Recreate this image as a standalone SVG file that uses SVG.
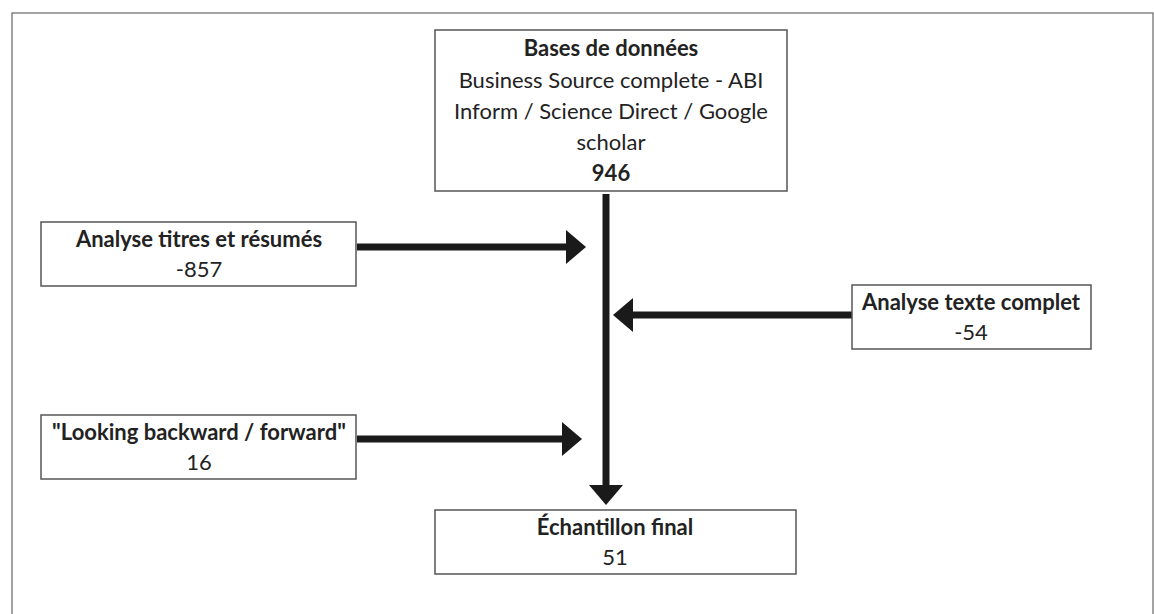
<svg xmlns="http://www.w3.org/2000/svg" width="1154" height="614" viewBox="0 0 1154 614">
<style>
.box{fill:#fff;stroke:#555;stroke-width:1.5}
.t{font-family:Lato,"Open Sans","Liberation Sans",sans-serif;font-size:22px;fill:#222;text-anchor:middle}
.b{font-weight:bold}
.c{stroke:#1a1a1a;stroke-width:7;fill:none}
</style>
<defs>
<marker id="ah" markerUnits="userSpaceOnUse" markerWidth="22" markerHeight="36" refX="0" refY="18" orient="auto" overflow="visible">
<path d="M0,1 L20,18 L0,35 Z" fill="#1a1a1a"/>
</marker>
</defs>
<rect x="12" y="13" width="1141" height="620" fill="#fff" stroke="#666" stroke-width="1.2"/>
<g id="connectors">
<line class="c" x1="357" y1="247" x2="566" y2="247" marker-end="url(#ah)"/>
<line class="c" x1="357" y1="439" x2="562" y2="439" marker-end="url(#ah)"/>
<line class="c" x1="852" y1="315" x2="633" y2="315" marker-end="url(#ah)"/>
<line class="c" x1="606" y1="194" x2="606" y2="485" stroke-width="6" marker-end="url(#ah)"/>
</g>
<g id="bases">
<rect class="box" x="435" y="30" width="352" height="161"/>
<text class="t b" x="611" y="56">Bases de données</text>
<text class="t" x="611" y="88">Business Source complete - ABI</text>
<text class="t" x="611" y="119">Inform / Science Direct / Google</text>
<text class="t" x="611" y="150">scholar</text>
<text class="t b" x="611" y="181">946</text>
</g>
<g id="titres">
<rect class="box" x="41" y="222" width="315" height="64"/>
<text class="t b" x="199" y="247">Analyse titres et résumés</text>
<text class="t" x="199" y="277">-857</text>
</g>
<g id="texte">
<rect class="box" x="852" y="285" width="239" height="64"/>
<text class="t b" x="971" y="310">Analyse texte complet</text>
<text class="t" x="971" y="340">-54</text>
</g>
<g id="looking">
<rect class="box" x="41" y="415" width="315" height="64"/>
<text class="t b" x="199" y="440">"Looking backward / forward"</text>
<text class="t" x="199" y="470">16</text>
</g>
<g id="final">
<rect class="box" x="435" y="510" width="361" height="64"/>
<text class="t b" x="615" y="535">Échantillon final</text>
<text class="t" x="615" y="565">51</text>
</g>
</svg>
